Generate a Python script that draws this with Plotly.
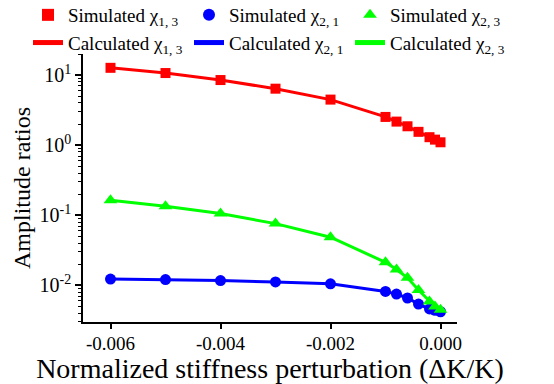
import plotly.graph_objects as go

# ---- data ----
x_sim = [-0.006, -0.005, -0.004, -0.003, -0.002, -0.001, -0.0008, -0.0006, -0.0004, -0.0002, -0.0001, 0.0]
chi13_sim = [12.7, 10.7, 8.5, 6.4, 4.47, 2.53, 2.17, 1.86, 1.55, 1.30, 1.20, 1.10]
chi21_sim = [0.0123, 0.0121, 0.0117, 0.0112, 0.0105, 0.0082, 0.0075, 0.0066, 0.0054, 0.0046, 0.0044, 0.0042]
chi23_sim = [0.164, 0.134, 0.106, 0.076, 0.0486, 0.0213, 0.0168, 0.0128, 0.0086, 0.0059, 0.0050, 0.0045]

x_calc = [-0.006, -0.005, -0.004, -0.003, -0.002, -0.001, -0.0008, -0.0006, -0.0004, -0.0002, -0.0001, 0.0]
chi13_calc = [12.7, 10.7, 8.5, 6.4, 4.47, 2.53, 2.17, 1.86, 1.55, 1.30, 1.20, 1.10]
chi21_calc = [0.0123, 0.0121, 0.0117, 0.0112, 0.0105, 0.0082, 0.0075, 0.0066, 0.0054, 0.0046, 0.0044, 0.0042]
chi23_calc = [0.164, 0.134, 0.106, 0.076, 0.0486, 0.0213, 0.0168, 0.0128, 0.0086, 0.0059, 0.0050, 0.0045]

x_tickvals = [-0.006, -0.004, -0.002, 0.0]
x_ticktext = ["-0.006", "-0.004", "-0.002", "0.000"]
y_tickvals = [0.01, 0.1, 1, 10]
y_ticktext = ["10<sup>-2</sup>", "10<sup>-1</sup>", "10<sup>0</sup>", "10<sup>1</sup>"]
y_minorvals = [m * 10.0 ** e for e in (-3, -2, -1, 0, 1) for m in range(2, 10)]

RED, BLUE, GREEN = "#FF0000", "#0000FF", "#00FF00"
FONT = "Liberation Serif"

fig = go.Figure()
# calculated (lines) drawn first, listed in the second legend row
fig.add_trace(go.Scatter(x=x_calc, y=chi13_calc, mode="lines", name="Calculated χ<sub>1, 3</sub>",
                         line=dict(color=RED, width=3), legendrank=4))
fig.add_trace(go.Scatter(x=x_calc, y=chi21_calc, mode="lines", name="Calculated χ<sub>2, 1</sub>",
                         line=dict(color=BLUE, width=3), legendrank=5))
fig.add_trace(go.Scatter(x=x_calc, y=chi23_calc, mode="lines", name="Calculated χ<sub>2, 3</sub>",
                         line=dict(color=GREEN, width=3), legendrank=6))
# simulated (markers) on top, first legend row
fig.add_trace(go.Scatter(x=x_sim, y=chi13_sim, mode="markers", name="Simulated χ<sub>1, 3</sub>",
                         marker=dict(symbol="square", size=10, color=RED), legendrank=1))
fig.add_trace(go.Scatter(x=x_sim, y=chi21_sim, mode="markers", name="Simulated χ<sub>2, 1</sub>",
                         marker=dict(symbol="circle", size=11, color=BLUE), legendrank=2))
fig.add_trace(go.Scatter(x=x_sim, y=chi23_sim, mode="markers", name="Simulated χ<sub>2, 3</sub>",
                         marker=dict(symbol="triangle-up", size=12, color=GREEN), legendrank=3))

ML, MR, MT, MB = 83, 10, 54, 62
W, H = 554, 384
gw = W - ML - MR
gh = H - MT - MB
plot_right_px = 457

fig.update_layout(
    width=W, height=H,
    margin=dict(l=ML, r=MR, t=MT, b=MB, autoexpand=False),
    paper_bgcolor="white", plot_bgcolor="white",
    font=dict(family=FONT, color="black", size=19),
    showlegend=True,
    legend=dict(orientation="h", x=(28 - ML) / gw, xanchor="left",
                y=1 + (MT + 4) / gh, yanchor="top",
                entrywidth=116, entrywidthmode="pixels", traceorder="normal",
                font=dict(family=FONT, size=19, color="black"),
                bgcolor="rgba(0,0,0,0)", itemsizing="constant"),
    xaxis=dict(domain=[0, (plot_right_px - ML) / gw],
               range=[-0.0065, 0.0003], showline=True, linecolor="black", linewidth=1.5,
               ticks="outside", ticklen=5, tickwidth=1.5, tickcolor="black",
               ticklabelstandoff=-2,
               tickvals=x_tickvals, ticktext=x_ticktext, showgrid=False, zeroline=False,
               tickfont=dict(family=FONT, size=19),
               title=dict(text="Normalized stiffness perturbation (ΔK/K)",
                          font=dict(family=FONT, size=28), standoff=0)),
    yaxis=dict(type="log", range=[-2.523, 1.301], showline=True, linecolor="black", linewidth=1.5,
               ticks="outside", ticklen=6, tickwidth=1.5, tickcolor="black",
               tickvals=y_tickvals, ticktext=y_ticktext, showgrid=False, zeroline=False,
               tickfont=dict(family=FONT, size=20),
               minor=dict(ticks="outside", ticklen=3, tickwidth=1, tickcolor="black",
                          tickmode="array", tickvals=y_minorvals, showgrid=False),
               title=dict(text="Amplitude ratios", font=dict(family=FONT, size=24), standoff=2)),
)

fig.write_html("out.html", config={"displayModeBar": False},
               post_script="document.body.style.margin='0';")
